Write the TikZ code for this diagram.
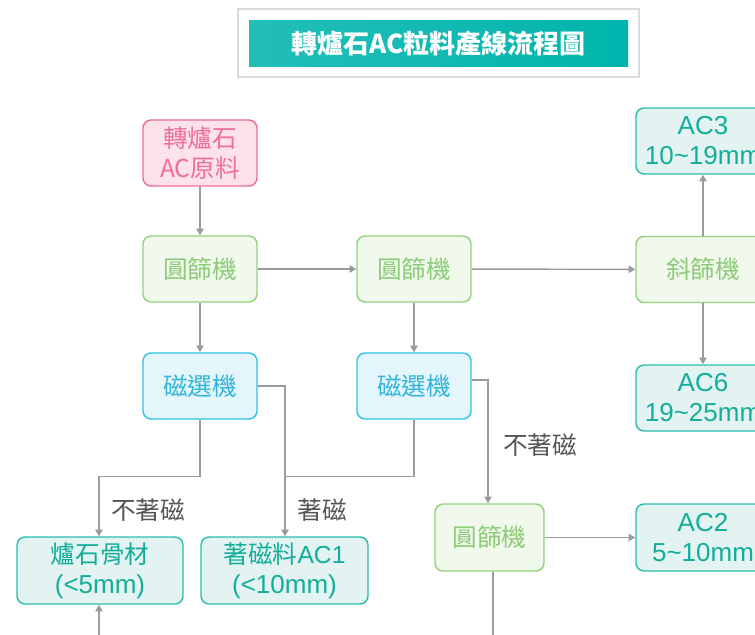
\documentclass[tikz,border=0pt]{standalone}
\usepackage{fontspec}
\setmainfont{Liberation Sans}
\newfontfamily\cjk{Noto Sans CJK TC}
\usetikzlibrary{arrows.meta,calc}
\definecolor{pinkfill}{HTML}{FDE3E9}
\definecolor{pinkdraw}{HTML}{F06B92}
\definecolor{pinktext}{HTML}{EE6F98}
\definecolor{greenfill}{HTML}{F1F8EC}
\definecolor{greendraw}{HTML}{92D27E}
\definecolor{greentext}{HTML}{8CCB78}
\definecolor{bluefill}{HTML}{E5F5FC}
\definecolor{bluedraw}{HTML}{33C3E8}
\definecolor{bluetext}{HTML}{33B5D9}
\definecolor{tealfill}{HTML}{E3F3F1}
\definecolor{tealdraw}{HTML}{2DBDAB}
\definecolor{tealtext}{HTML}{12AE99}
\definecolor{lineg}{HTML}{9B9B9B}
\definecolor{lbltext}{HTML}{555555}
\definecolor{framegray}{HTML}{DADADA}
\definecolor{titleL}{HTML}{22BEB8}
\definecolor{titleR}{HTML}{00B5AD}
\begin{document}
\begin{tikzpicture}[x=0.75pt,y=-0.75pt,
  box/.style={draw, rounded corners=6pt, line width=1.1pt, minimum width=85.5pt,
    minimum height=49.5pt, inner sep=0pt, align=center,
    font=\fontsize{18.5}{22.5}\selectfont},
  pinkbox/.style={box, fill=pinkfill, draw=pinkdraw, text=pinktext},
  greenbox/.style={box, fill=greenfill, draw=greendraw, text=greentext},
  bluebox/.style={box, fill=bluefill, draw=bluedraw, text=bluetext},
  tealbox/.style={box, fill=tealfill, draw=tealdraw, text=tealtext},
  widebox/.style={minimum width=100.5pt},
  conn/.style={draw=lineg, line width=1.1pt, -{Triangle[length=5pt,width=5.5pt]}},
  plain/.style={draw=lineg, line width=1.1pt},
  lbl/.style={text=lbltext, font=\fontsize{18.5}{22}\selectfont\cjk, inner sep=1pt}
]
\clip (0,0) rectangle (755,634);
\fill[white] (0,0) rectangle (755,634);

% title
\node[draw=framegray, line width=1.5pt, minimum width=300.75pt, minimum height=51pt, inner sep=0pt] (frame) at (438.5,43.5) {};
\node[left color=titleL, right color=titleR, minimum width=284.25pt, minimum height=34.5pt, inner sep=0pt,
  text=white, font=\fontsize{19.5}{22}\selectfont\cjk\bfseries] (title) at (438.5,44) {轉爐石AC粒料產線流程圖};

% nodes
\node[pinkbox] (raw) at (200,153) {\cjk 轉爐石\\\cjk AC原料};
\node[greenbox] (s1) at (200,269) {\cjk 圓篩機};
\node[greenbox] (s2) at (414,269) {\cjk 圓篩機};
\node[greenbox, widebox] (tilt) at (703,269.5) {\cjk 斜篩機};
\node[tealbox, widebox] (ac3) at (703,141) {\fontsize{19.5}{22.5}\selectfont AC3\\\fontsize{19.5}{22.5}\selectfont 10\textasciitilde19mm};
\node[tealbox, widebox] (ac6) at (703,398) {\fontsize{19.5}{22.5}\selectfont AC6\\\fontsize{19.5}{22.5}\selectfont 19\textasciitilde25mm};
\node[bluebox] (m1) at (200,386) {\cjk 磁選機};
\node[bluebox] (m2) at (414,386) {\cjk 磁選機};
\node[greenbox, minimum width=81.75pt, minimum height=50.25pt] (s3) at (489.5,537.5) {\cjk 圓篩機};
\node[tealbox, widebox, minimum height=50.25pt] (ac2) at (703,537.5) {\fontsize{19.5}{22.5}\selectfont AC2\\\fontsize{19.5}{22.5}\selectfont 5\textasciitilde10mm};
\node[tealbox, minimum width=124.5pt, minimum height=50.25pt] (agg) at (100,570.5) {{\cjk 爐石骨材}\\\fontsize{19.5}{22.5}\selectfont (<5mm)};
\node[tealbox, minimum width=125.25pt, minimum height=50.25pt] (ac1) at (284.5,570.5) {{\cjk 著磁料}AC1\\\fontsize{19.5}{22.5}\selectfont (<10mm)};

% helper coordinates
\coordinate (j1) at (99,476.5);
\coordinate (j2) at (285,476.5);
\coordinate (j3) at (488,380);
\coordinate (b1) at (493,645);
\coordinate (b2) at (99,645);

% connectors
\draw[conn] (raw) -- (s1);
\draw[conn] (s1) -- (s2);
\draw[conn] (s2) -- (tilt);
\draw[conn] (tilt) -- (ac3);
\draw[conn] (tilt) -- (ac6);
\draw[conn] (s1) -- (m1);
\draw[conn] (s2) -- (m2);
\draw[conn] (m1.south) -- (m1.south |- j1) -- (j1) -- (j1 |- agg.north);
\draw[conn] (m1.east) -- (j2 |- m1.east) -- (j2 |- ac1.north);
\draw[plain] (m2.south) -- (m2.south |- j2) -- (j2);
\draw[conn] (m2.east |- j3) -- (j3) -- (j3 |- s3.north);
\draw[conn] (s3) -- (ac2);
\draw[plain] (b1 |- s3.south) -- (b1);
\draw[conn] (b2) -- (b2 |- agg.south);

% labels
\node[lbl] (l1) at (148,510) {不著磁};
\node[lbl] (l2) at (322,510) {著磁};
\node[lbl] (l3) at (540,445) {不著磁};
\end{tikzpicture}
\end{document}
